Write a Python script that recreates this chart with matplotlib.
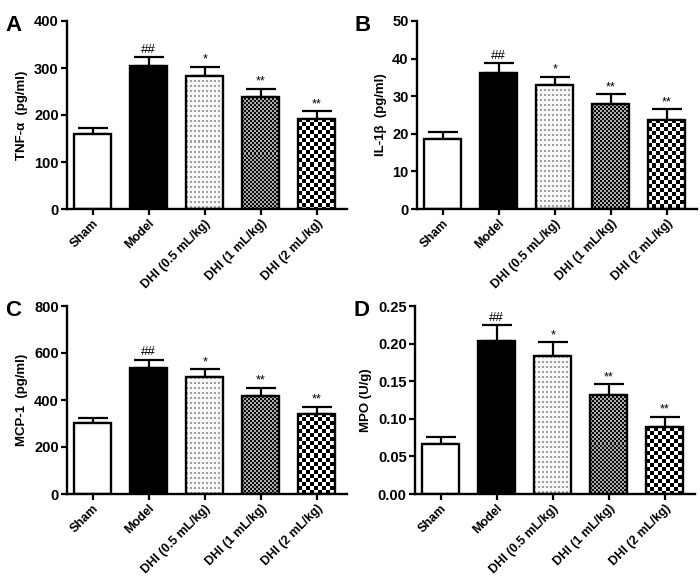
import numpy as np
import matplotlib
matplotlib.use('Agg')
import matplotlib.pyplot as plt
from matplotlib.ticker import FormatStrFormatter

plt.rcParams['font.family'] = ['Liberation Sans', 'DejaVu Sans']
plt.rcParams['font.weight'] = 'bold'

groups = ['Sham', 'Model', 'DHI (0.5 mL/kg)', 'DHI (1 mL/kg)', 'DHI (2 mL/kg)']
marks = ['', '##', '*', '**', '**']

tnf = [160, 305, 283, 239, 192]
tnf_err = [13, 18, 19, 17, 16]
il1b = [18.5, 36.1, 33.0, 27.9, 23.7]
il1b_err = [1.9, 2.8, 2.2, 2.6, 2.8]
mcp1 = [303, 535, 497, 416, 341]
mcp1_err = [20, 37, 34, 36, 31]
mpo = [0.067, 0.204, 0.183, 0.132, 0.089]
mpo_err = [0.009, 0.021, 0.019, 0.014, 0.014]

panels = [
    ('A', tnf, tnf_err, 'TNF-α  (pg/ml)', 400, 100, '%d'),
    ('B', il1b, il1b_err, 'IL-1β  (pg/ml)', 50, 10, '%d'),
    ('C', mcp1, mcp1_err, 'MCP-1  (pg/ml)', 800, 200, '%d'),
    ('D', mpo, mpo_err, 'MPO (U/g)', 0.25, 0.05, '%.2f'),
]
fills = ['white', 'black', 'dots', 'fine', 'coarse']

# axes boxes in pixels (left, top) of a 700x577 figure
boxes = [(67, 21), (417, 21), (67, 306), (415, 306)]


def pattern_fill(ax, bar, kind):
    bb = bar.get_window_extent()
    w = max(int(round(bb.width)), 1)
    h = max(int(round(bb.height)), 1)
    yy, xx = np.mgrid[0:h, 0:w]
    img = np.ones((h, w, 3))
    if kind == 'dots':
        on = (xx % 4 < 2) & (yy % 5 < 2)
        img[on] = 0.62
        img[~on] = 0.98
    elif kind == 'fine':
        on = ((xx // 2 + yy // 2) % 2) == 0
        img[on] = 0.05
        img[~on] = 0.68
    else:
        on = ((xx // 4 + yy // 4) % 2) == 0
        img[on] = 0.0
        img[~on] = 1.0
    x0 = bar.get_x()
    im = ax.imshow(img, extent=(x0, x0 + bar.get_width(), 0, bar.get_height()),
                   origin='upper', aspect='auto', interpolation='nearest', zorder=1.5)
    im.set_clip_path(bar)


fig = plt.figure(figsize=(7, 5.77), dpi=100)
x = np.arange(len(groups))

for (letter, vals, errs, ylabel, ymax, step, fmt), (lp, tp) in zip(panels, boxes):
    ax = fig.add_axes([lp / 700, (577 - tp - 188) / 577, 280 / 700, 188 / 577])
    ax.set_xlim(-0.46, 4.54)
    ax.set_ylim(0, ymax)
    colors = []
    for f in fills:
        colors.append(f if f in ('white', 'black') else 'none')
    bars = ax.bar(x, vals, width=0.66, color=colors, edgecolor='black', linewidth=1.7, zorder=2)
    ax.errorbar(x, vals, yerr=[np.zeros(len(vals)), errs], fmt='none', ecolor='black',
                elinewidth=1.6, capsize=11, capthick=1.6, zorder=1)
    for b, f in zip(bars, fills):
        if f not in ('white', 'black'):
            pattern_fill(ax, b, f)
    for i in range(len(vals)):
        if marks[i]:
            ax.text(x[i], vals[i] + errs[i] + ymax * 0.006, marks[i], ha='center', va='bottom',
                    fontsize=9.5 if marks[i] == '##' else 9, fontweight='normal')
    ax.set_xlim(-0.46, 4.54)
    ax.set_ylim(0, ymax)
    ax.set_yticks(np.arange(0, ymax + step / 2, step))
    ax.yaxis.set_major_formatter(FormatStrFormatter(fmt))
    ax.set_xticks(x)
    ax.set_xticklabels(groups, rotation=45, ha='right', rotation_mode='anchor', fontsize=9)
    ax.tick_params(axis='y', labelsize=10.5, width=1.6, length=4, direction='out', pad=2)
    ax.tick_params(axis='x', width=1.6, length=4, direction='out', pad=2)
    for s in ['top', 'right']:
        ax.spines[s].set_visible(False)
    for s in ['left', 'bottom']:
        ax.spines[s].set_linewidth(1.7)
    ax.set_ylabel(ylabel, fontsize=9.5, fontweight='bold', labelpad=4)
    fig.text((lp - 62) / 700, 1 - (tp - 6) / 577, letter, fontsize=16, fontweight='bold',
             ha='left', va='top')

plt.savefig('out.png', dpi=100)
